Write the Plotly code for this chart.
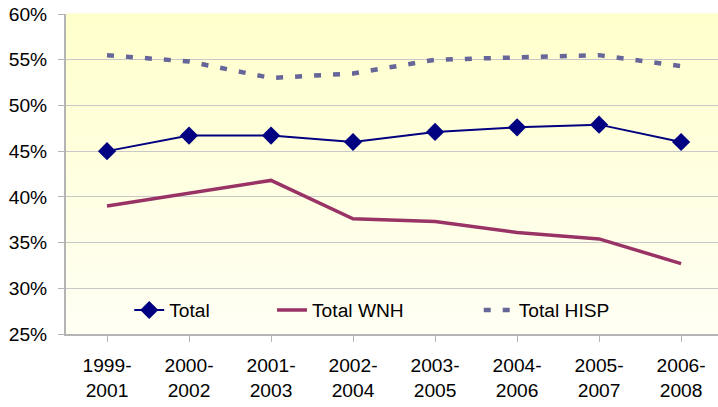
import plotly.graph_objects as go

categories = ["1999-<br>2001", "2000-<br>2002", "2001-<br>2003", "2002-<br>2004",
              "2003-<br>2005", "2004-<br>2006", "2005-<br>2007", "2006-<br>2008"]
total = [0.450, 0.467, 0.467, 0.460, 0.471, 0.476, 0.479, 0.460]
total_wnh = [0.390, 0.404, 0.418, 0.376, 0.373, 0.361, 0.354, 0.327]
total_hisp = [0.555, 0.548, 0.530, 0.535, 0.550, 0.553, 0.555, 0.543]
y_ticks = [0.25, 0.30, 0.35, 0.40, 0.45, 0.50, 0.55, 0.60]

FONT = "Liberation Sans, Arial, sans-serif"
FS = 19.2

fig = go.Figure()
x = list(range(len(categories)))
fig.add_trace(go.Scatter(x=x, y=total, name="Total", mode="lines+markers",
                         line=dict(color="#000080", width=2),
                         marker=dict(symbol="diamond", size=14, color="#000080"),
                         legend="legend", showlegend=True))
fig.add_trace(go.Scatter(x=x, y=total_wnh, name="Total WNH", mode="lines",
                         line=dict(color="#993366", width=3.5),
                         legend="legend2", showlegend=True))
fig.add_trace(go.Scatter(x=x, y=total_hisp, name="Total HISP", mode="lines",
                         line=dict(color="#666699", width=4.5, dash="7px,12px"),
                         legend="legend3", showlegend=True))

# vertical gradient background (light yellow to near white)
n = 40
top = (255, 255, 204)
bot = (255, 255, 244)
shapes = []
for i in range(n):
    t = i / (n - 1)
    c = tuple(round(top[k] + (bot[k] - top[k]) * t) for k in range(3))
    shapes.append(dict(type="rect", xref="paper", yref="paper", layer="below",
                       x0=0, x1=1, y0=1 - (i + 1) / n, y1=1 - i / n + 0.002,
                       line=dict(width=0), fillcolor="rgb(%d,%d,%d)" % c))

leg_common = dict(orientation="h", bgcolor="rgba(0,0,0,0)", font=dict(size=FS, family=FONT, color="#000"),
                  yanchor="middle", xanchor="left", itemwidth=30)

fig.update_layout(
    width=718, height=407,
    margin=dict(l=66, r=0, t=14, b=73),
    paper_bgcolor="white",
    plot_bgcolor="rgba(0,0,0,0)",
    shapes=shapes,
    showlegend=True,
    font=dict(family=FONT, size=FS, color="#000"),
    legend=dict(x=0.097, y=0.075, **leg_common),
    legend2=dict(x=0.316, y=0.075, **leg_common),
    legend3=dict(x=0.633, y=0.075, **leg_common),
    xaxis=dict(tickmode="array", tickvals=x, ticktext=categories, range=[-0.5, 7.45],
               showgrid=False, showline=True, linecolor="#b4b4b4", linewidth=2,
               ticks="outside", ticklen=6, tickcolor="#b4b4b4", tickwidth=1,
               tickson="boundaries", ticklabelstandoff=7, zeroline=False, automargin=False,
               tickfont=dict(size=FS, family=FONT, color="#000")),
    yaxis=dict(range=[0.25, 0.60], tickvals=y_ticks, tickformat=".0%",
               showgrid=True, gridcolor="#c8c8c8", gridwidth=1,
               showline=True, linecolor="#b4b4b4", linewidth=2,
               ticks="outside", ticklen=6, tickcolor="#b4b4b4",
               ticklabelstandoff=7, zeroline=False, automargin=False,
               tickfont=dict(size=FS, family=FONT, color="#000")),
)

fig.write_html("out.html", config={"displayModeBar": False},
               post_script="document.body.style.margin='0px';")
